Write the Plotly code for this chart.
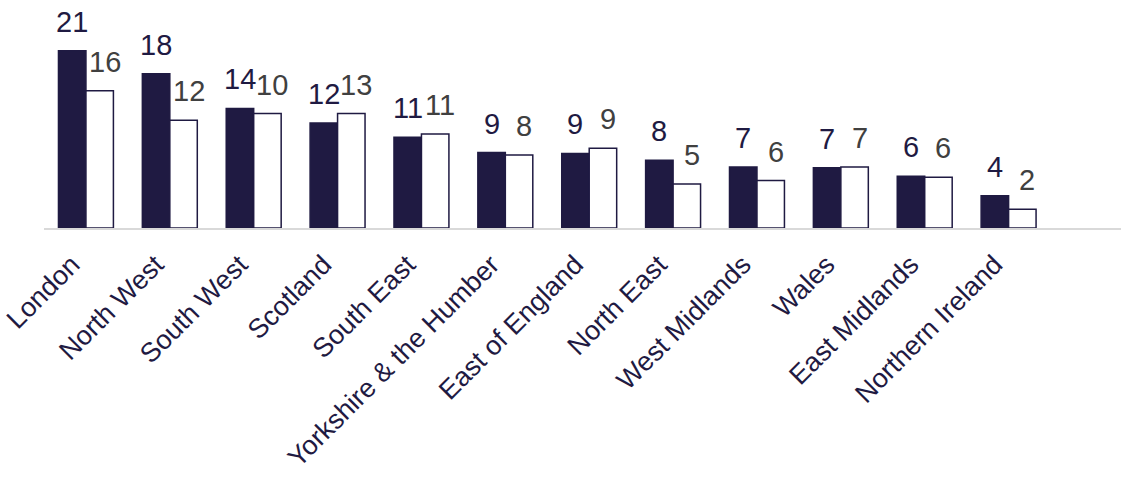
import plotly.graph_objects as go

categories = ["London", "North West", "South West", "Scotland", "South East",
              "Yorkshire & the Humber", "East of England", "North East",
              "West Midlands", "Wales", "East Midlands", "Northern Ireland"]
series_a = [20.9, 18.2, 14.1, 12.4, 10.7, 8.9, 8.8, 8.0, 7.2, 7.1, 6.1, 3.8]
series_b = [16.2, 12.7, 13.5, 13.5, 11.1, 8.6, 9.4, 5.2, 5.6, 7.2, 6.0, 2.2]
labels_a = ["21", "18", "14", "12", "11", "9", "9", "8", "7", "7", "6", "4"]
labels_b = ["16", "12", "10", "13", "11", "8", "9", "5", "6", "7", "6", "2"]

NAVY = "#1f1a42"
GRAY = "#404040"
FONT = "Arial, Liberation Sans, sans-serif"

fig = go.Figure()
fig.add_trace(go.Bar(x=categories, y=series_a, name="A",
                     marker=dict(color=NAVY, line=dict(color=NAVY, width=1.5))))
fig.add_trace(go.Bar(x=categories, y=series_b, name="B",
                     marker=dict(color="white", line=dict(color=NAVY, width=1.5))))

bargap = 0.345
half = (1 - bargap) / 4
annotations = []
for i in range(len(categories)):
    annotations.append(dict(x=i - half, y=series_a[i], xref="x", yref="y",
                            text=labels_a[i], showarrow=False, yanchor="bottom",
                            yshift=11, font=dict(size=29, color=NAVY, family=FONT)))
    annotations.append(dict(x=i + half, y=series_b[i], xref="x", yref="y",
                            text=labels_b[i], showarrow=False, yanchor="bottom",
                            yshift=11, xshift=5, font=dict(size=29, color=GRAY, family=FONT)))

fig.update_layout(
    width=1122, height=484, autosize=False,
    margin=dict(l=44, r=1, t=0, b=256),
    paper_bgcolor="white", plot_bgcolor="white",
    barmode="group", bargap=bargap, bargroupgap=0,
    showlegend=False,
    font=dict(family=FONT, color=NAVY, size=27),
    annotations=annotations,
    xaxis=dict(range=[-0.5, 12.34], showline=True, linecolor="#d9d9d9", linewidth=2,
               ticks="", tickangle=-45, showgrid=False, zeroline=False,
               automargin=False,
               ticklabelstandoff=8, ticklabelshift=-14,
               tickfont=dict(size=27, color=NAVY, family=FONT)),
    yaxis=dict(range=[0, 26.9], visible=False, showgrid=False, zeroline=False,
               automargin=False),
)

fig.write_html("out.html")
